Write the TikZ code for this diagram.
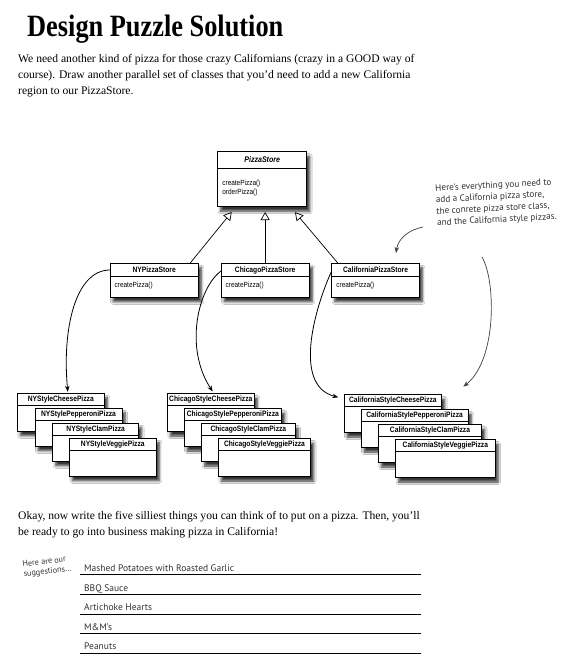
\documentclass[tikz,border=0pt]{standalone}
\usepackage{fontspec}
\setmainfont{Liberation Serif}
\newfontfamily\umlfont[FakeStretch=0.86]{Liberation Sans}
\newfontfamily\titlefont[FakeStretch=0.85]{Liberation Serif}
\newfontfamily\handfont{PT Sans}
\usetikzlibrary{arrows.meta,shadows.blur,calc}

\tikzset{
  clsbox/.style={draw=black, line width=0.9pt, fill=white, inner sep=0pt, outer sep=0pt, anchor=north west,
    blur shadow={shadow xshift=3pt, shadow yshift=-4.5pt, shadow blur radius=2.5pt, shadow blur steps=6, shadow opacity=80}},
  clsline/.style={line width=0.7pt},
  clstitle/.style={font=\umlfont\bfseries\fontsize{7.8}{8}\selectfont, inner sep=0pt, anchor=north},
  clsmeth/.style={font=\umlfont\fontsize{7.5}{9}\selectfont, inner sep=0pt, anchor=north west, align=left},
  inh/.style={line width=0.7pt, -{Triangle[open, length=8pt, width=9pt, fill=white]}},
  dep/.style={line width=0.8pt, -{Stealth[length=6pt, width=4.5pt]}},
  notearrow/.style={line width=0.7pt, draw=black!75, -{Stealth[length=6pt, width=4.5pt]}},
  titlest/.style={font=\titlefont\bfseries\fontsize{31}{31}\selectfont, inner sep=0pt, anchor=base west},
  body/.style={font=\fontsize{11.6}{16}\selectfont, inner sep=0pt, anchor=base west},
  hand/.style={font=\handfont\fontsize{9.2}{11.5}\selectfont, text=black!80, inner sep=0pt},
  item/.style={font=\handfont\fontsize{9.5}{10}\selectfont, text=black!80, inner sep=0pt, anchor=base west},
  rule/.style={line width=0.8pt},
}

\newcommand\umlclass[7]{%
  \node[clsbox, minimum width=#4pt, minimum height=#5pt] (#1) at (#2,#3) {};
  \draw[clsline] ([yshift=-#6pt]#1.north west) -- ([yshift=-#6pt]#1.north east);
  \node[clstitle, minimum height=#6pt] (#1-t) at (#1.north) {#7};
}

\begin{document}
\begin{tikzpicture}[x=1pt,y=-1pt]
\useasboundingbox[fill=white] (0,0) rectangle (573,659);

% title and intro
\node[titlest] (title) at (27,36) {Design Puzzle Solution};
\node[body] (intro1) at (18,62) {We need another kind of pizza for those crazy Californians (crazy in a GOOD way of};
\node[body] (intro2) at (18,78) {course).  Draw another parallel set of classes that you’d need to add a new California};
\node[body] (intro3) at (18,94) {region to our PizzaStore.};

% abstract store
\umlclass{ps}{217.7}{151.7}{89}{55}{16.3}{\fontsize{8.2}{8}\selectfont\itshape PizzaStore}
\node[clsmeth] (ps-m) at ([shift={(4.5pt,-28.3pt)}]ps.north west) {createPizza()\\orderPizza()};

% concrete stores
\umlclass{ny}{110}{263.3}{88.3}{34}{13}{NYPizzaStore}
\node[clsmeth] (ny-m) at ([shift={(4.5pt,-18.7pt)}]ny.north west) {createPizza()};
\umlclass{chi}{221}{263.3}{88.3}{34}{13}{ChicagoPizzaStore}
\node[clsmeth] (chi-m) at ([shift={(4.5pt,-18.7pt)}]chi.north west) {createPizza()};
\umlclass{cal}{331.7}{263.3}{87.7}{34}{13}{CaliforniaPizzaStore}
\node[clsmeth] (cal-m) at ([shift={(4.5pt,-18.7pt)}]cal.north west) {createPizza()};

% NY pizzas
\umlclass{nyc}{17.3}{393.3}{87}{38}{12}{NYStyleCheesePizza}
\umlclass{nyp}{35}{408.3}{87}{38}{12}{NYStylePepperoniPizza}
\umlclass{nycl}{52.7}{423.3}{86}{38}{12}{NYStyleClamPizza}
\umlclass{nyv}{69.3}{438.3}{87}{38}{12}{NYStyleVeggiePizza}

% Chicago pizzas
\umlclass{chc}{167.3}{393.5}{87}{38}{12}{ChicagoStyleCheesePizza}
\umlclass{chp}{184}{408.5}{97.7}{38}{12}{ChicagoStylePepperoniPizza}
\umlclass{chcl}{201.7}{423.5}{93.3}{38}{12}{ChicagoStyleClamPizza}
\umlclass{chv}{218.3}{438.5}{92.4}{38}{12}{ChicagoStyleVeggiePizza}

% California pizzas
\umlclass{cac}{344}{394.5}{97.7}{38}{12}{CaliforniaStyleCheesePizza}
\umlclass{cap}{361}{409.5}{107.3}{38}{12}{CaliforniaStylePepperoniPizza}
\umlclass{cacl}{378.3}{424.5}{103.4}{38}{12}{CaliforniaStyleClamPizza}
\umlclass{cav}{395.7}{439.5}{99.3}{38}{12}{CaliforniaStyleVeggiePizza}

% inheritance
\draw[inh] ([xshift=80pt]ny.north west) -- ([shift={(14pt,-5.3pt)}]ps.south west);
\draw[inh, shorten >=5.3pt] (chi.north) -- (chi.north |- ps.south);
\draw[inh] ([xshift=6.3pt]cal.north west) -- ([shift={(77.3pt,-5.5pt)}]ps.south west);

% creation
\draw[dep] ([yshift=-6.7pt]ny.north west) .. controls (75,270) and (62,330) .. ([shift={(50.5pt,1.5pt)}]nyc.north west);
\draw[dep] ([yshift=-7.7pt]chi.north west) .. controls (198,288) and (184,348) .. ([shift={(45.4pt,2pt)}]chc.north west);
\draw[dep] ([yshift=-7.7pt]cal.north west) .. controls (318,300) and (290,385) .. ([shift={(-5.7pt,-2.8pt)}]cac.north west);

% annotation
\node[hand, rotate=3, align=left] (note) at (496,203) {Here’s everything you need to\\add a California pizza store,\\the conrete pizza store class,\\and the California style pizzas.};
\coordinate (n1) at (423,227);
\coordinate (n2) at (482,257);
\draw[notearrow] (n1) .. controls (408,230) and (398,239) .. ([shift={(64.3pt,10.3pt)}]cal.north west);
\draw[notearrow] (n2) .. controls (496,281) and (497,360) .. ([shift={(21.6pt,7.8pt)}]cac.north east);

% bottom
\node[body] (ask1) at (18,519) {Okay, now write the five silliest things you can think of to put on a pizza.  Then, you’ll};
\node[body] (ask2) at (18,535) {be ready to go into business making pizza in California!};

\node[hand, font=\handfont\fontsize{8.2}{10}\selectfont, rotate=7, align=left] (sugg) at (47,567) {Here are our\\suggestions...};

\node[item] (s1) at (84,571) {Mashed Potatoes with Roasted Garlic};
\node[item] (s2) at (84,591) {BBQ Sauce};
\node[item] (s3) at (84,610.5) {Artichoke Hearts};
\node[item] (s4) at (84,630) {M\&M’s};
\node[item] (s5) at (84,649.5) {Peanuts};
\draw[rule] (80,574.5) -- (421,574.5);
\draw[rule] (80,594.5) -- (421,594.5);
\draw[rule] (80,614) -- (421,614);
\draw[rule] (80,633.5) -- (421,633.5);
\draw[rule] (80,653) -- (421,653);
\end{tikzpicture}
\end{document}
